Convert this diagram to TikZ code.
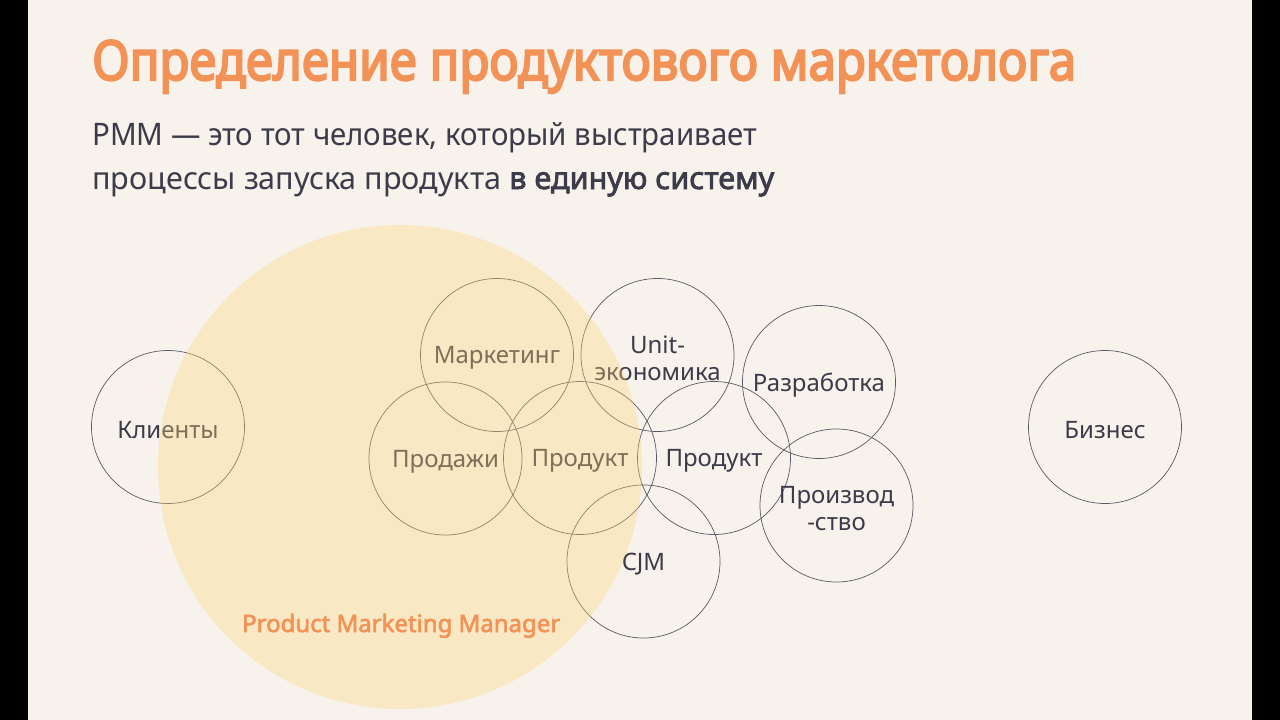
\documentclass[tikz,border=0pt]{standalone}
\usepackage{fontspec}
\usepackage{graphicx}
\setmainfont{Noto Sans}[BoldFont={Noto Sans}, BoldFeatures={FakeBold=2.5}]
\newfontfamily\heavyfont{Noto Sans}[FakeBold=4]
\definecolor{bg}{HTML}{F7F2EC}
\definecolor{ink}{HTML}{3B3B4A}
\definecolor{accent}{HTML}{F29256}
\definecolor{lemon}{HTML}{FFD577}
\definecolor{edge}{HTML}{5A5A64}
\newcommand{\fitw}[2]{\resizebox{#1}{\height}{#2}}
\begin{document}
\begin{tikzpicture}[x=1pt,y=-1pt,
  circ/.style={circle, draw=edge, line width=0.7pt, minimum size=153pt, inner sep=0pt},
  lbl/.style={inner sep=0pt, text=ink, font=\fontsize{24}{27}\selectfont, align=center, yshift=-3pt},
  txt/.style={anchor=base west, inner sep=0pt}]
\useasboundingbox (0,0) rectangle (1280,720);
\fill[bg] (0,0) rectangle (1280,720);
\fill[black] (0,0) rectangle (28,720);
\fill[black] (1252,0) rectangle (1280,720);

\node[txt, text=accent] (title) at (92,80)
  {\fitw{984pt}{\heavyfont\fontsize{55}{55}\selectfont Определение продуктового маркетолога}};
\node[txt, text=ink] (sub1) at (92,145)
  {\fitw{665pt}{\fontsize{31}{31}\selectfont PMM — это тот человек, который выстраивает}};
\node[txt, text=ink] (sub2) at (92,189)
  {\fitw{682pt}{\fontsize{31}{31}\selectfont процессы запуска продукта \textbf{в единую систему}}};

\node[circ] (klienty) at (168,427) {};
\node[circ] (marketing) at (497,355) {};
\node[circ] (unit) at (657.5,355) {};
\node[circ] (razrab) at (819,382) {};
\node[circ] (prodazhi) at (445.5,458.5) {};
\node[circ] (produkt1) at (580,458) {};
\node[circ] (produkt2) at (714,458) {};
\node[circ] (proizv) at (836.5,505.5) {};
\node[circ] (cjm) at (643.5,561.5) {};
\node[circ] (biznes) at (1105,427) {};

\node[lbl] (klientyL) at (klienty) {Клиенты};
\node[lbl] (marketingL) at (marketing) {Маркетинг};
\node[lbl] (unitL) at (unit) {Unit-\\экономика};
\node[lbl] (razrabL) at (razrab) {Разработка};
\node[lbl] (prodazhiL) at (prodazhi) {Продажи};
\node[lbl] (produkt1L) at (produkt1) {Продукт};
\node[lbl] (produkt2L) at (produkt2) {Продукт};
\node[lbl] (proizvL) at (proizv) {Производ\\-ство};
\node[lbl] (cjmL) at (cjm) {CJM};
\node[lbl] (biznesL) at (biznes) {Бизнес};

\fill[lemon, fill opacity=0.34] (400,467) circle[radius=242];

\node[txt, text=accent] (pmm) at (242,632)
  {\fitw{318pt}{\fontsize{24}{24}\selectfont\bfseries Product Marketing Manager}};
\end{tikzpicture}
\end{document}
